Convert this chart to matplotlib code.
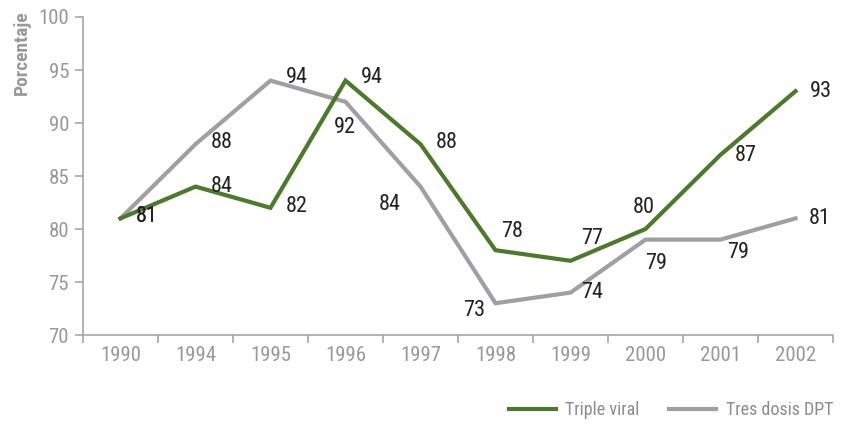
import matplotlib
matplotlib.use("Agg")
import matplotlib.pyplot as plt
from matplotlib.ticker import FixedLocator, NullFormatter
from matplotlib import font_manager

years = ["1990", "1994", "1995", "1996", "1997", "1998", "1999", "2000", "2001", "2002"]
triple_viral = [81, 84, 82, 94, 88, 78, 77, 80, 87, 93]
tres_dosis_dpt = [81, 88, 94, 92, 84, 73, 74, 79, 79, 81]
series_names = ["Triple viral", "Tres dosis DPT"]
y_ticks = [70, 75, 80, 85, 90, 95, 100]

# label offsets in pixels (style, not data)
off_green = [(26, 2), (26, 0), (26, 1), (26, 3), (26, 2), (17, 19), (22, 22), (-2, 22), (25, -1), (25, 0)]
off_gray = [(26, 2), (26, 2), (26, 3), (-1, -26), (-31, -18), (-21, -7), (22, 0), (11, -24), (18, -13), (24, 0)]

avail = {f.name for f in font_manager.fontManager.ttflist}
fam = "Roboto"
for cand in ["Liberation Sans Narrow", "Nimbus Sans Narrow", "Roboto Condensed", "Archivo Narrow", "PT Sans Narrow"]:
    if cand in avail:
        fam = cand
        break
plt.rcParams["font.family"] = [fam, "DejaVu Sans"]

GREEN = "#4a7a2a"
GRAY = "#a0a0a4"
AXC = "#a6a6a6"
TXT = "#999999"

fig = plt.figure(figsize=(8.49, 4.25), dpi=100)
ax = fig.add_axes([83 / 849, (425 - 335) / 425, (833 - 83) / 849, (335 - 17) / 425])

x = list(range(len(years)))
ax.plot(x, tres_dosis_dpt, color=GRAY, lw=3.0, label=series_names[1], zorder=2, solid_joinstyle="miter")
ax.plot(x, triple_viral, color=GREEN, lw=3.0, label=series_names[0], zorder=3, solid_joinstyle="miter")

for xi, v, o in zip(x, triple_viral, off_green):
    ax.annotate(str(v), (xi, v), xytext=o, textcoords="offset pixels",
                ha="center", va="center", fontsize=16, color="#222222", zorder=5)
for xi, v, o in zip(x, tres_dosis_dpt, off_gray):
    ax.annotate(str(v), (xi, v), xytext=o, textcoords="offset pixels",
                ha="center", va="center", fontsize=16, color="#222222", zorder=5)

ax.set_xlim(-0.5, len(years) - 0.5)
ax.set_ylim(70, 100)
ax.set_yticks(y_ticks)
ax.set_yticklabels([str(t) for t in y_ticks])
ax.set_xticks(x)
ax.set_xticklabels(years)
ax.xaxis.set_minor_locator(FixedLocator([i - 0.5 for i in range(len(years) + 1)]))
ax.xaxis.set_minor_formatter(NullFormatter())
ax.tick_params(axis="x", which="major", length=0, pad=8, labelsize=15, labelcolor=TXT)
ax.tick_params(axis="x", which="minor", length=6, width=1.2, color=AXC, direction="out")
ax.tick_params(axis="y", which="major", length=6, width=1.2, color=AXC, pad=4, labelsize=15, labelcolor=TXT)

for s in ["top", "right"]:
    ax.spines[s].set_visible(False)
for s in ["left", "bottom"]:
    ax.spines[s].set_color(AXC)
    ax.spines[s].set_linewidth(1.2)

fig.text(22 / 849, 1 - 53 / 425, "Porcentaje", rotation=90, ha="center", va="center",
         fontsize=14, fontweight="bold", color=TXT)

handles, labels = ax.get_legend_handles_labels()
leg = fig.legend(handles[::-1], labels[::-1], loc="center right",
                 bbox_to_anchor=(833 / 849, 1 - 410 / 425), ncol=2, frameon=False,
                 fontsize=13, handlelength=2.6, handletextpad=0.55, columnspacing=1.6,
                 borderaxespad=0, borderpad=0)
for t in leg.get_texts():
    t.set_color("#8c8c8c")

fig.savefig("out.png", dpi=100)
